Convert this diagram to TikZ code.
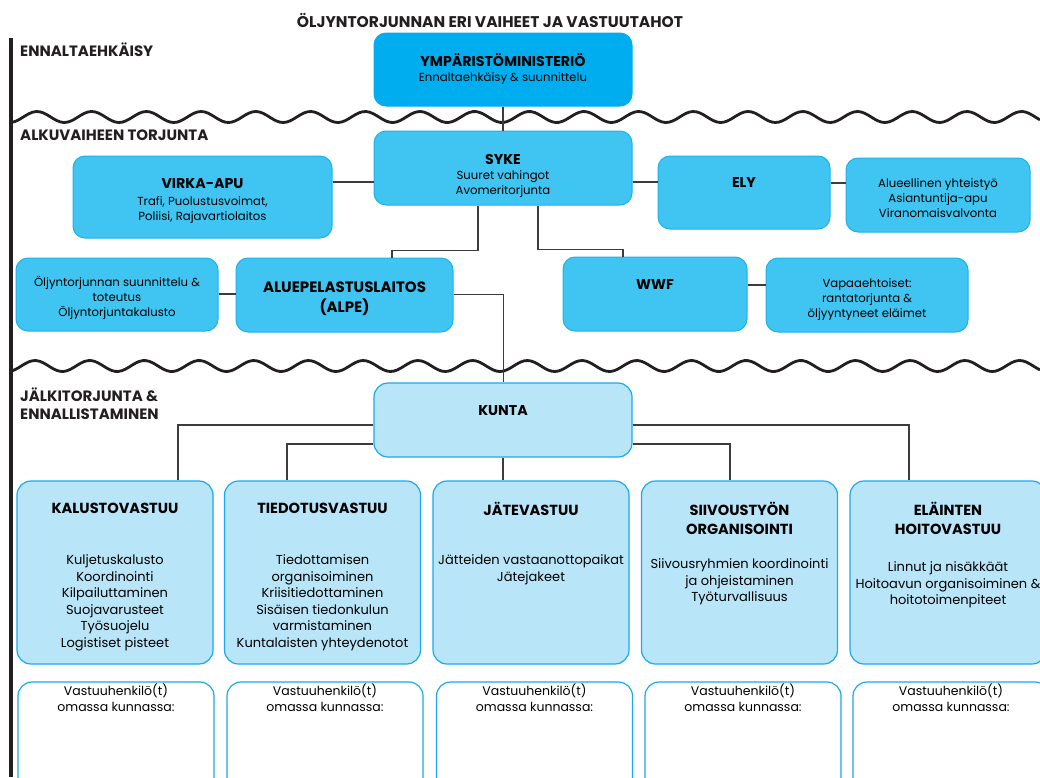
\documentclass[tikz,border=0pt]{standalone}
\usepackage{fontspec}
\setmainfont{Poppins}
\usetikzlibrary{positioning}
\newcommand{\otsikko}[1]{{\bfseries\fontsize{14.2}{16}\selectfont #1}}
\begin{document}
\begin{tikzpicture}[x=1pt,y=-1pt,
    box/.style={draw=bborde,fill=bfill,line width=1pt,rounded corners=12pt,inner sep=0pt},
    btext/.style={align=center,inner sep=0pt,font=\fontsize{11.7}{15}\selectfont},
    kbox/.style={box,draw=kborde,fill=kfill,line width=1.2pt,rounded corners=14pt},
    vbox/.style={kbox,fill=white},
    head/.style={align=center,inner sep=0pt,font=\bfseries\fontsize{14.6}{19}\selectfont},
    body/.style={align=center,inner sep=0pt,font=\fontsize{13}{16.5}\selectfont},
    small/.style={align=center,inner sep=0pt,font=\fontsize{12.5}{16}\selectfont},
    vaihe/.style={anchor=west,inner sep=0pt,align=left,font=\bfseries\fontsize{15}{18}\selectfont,text=negro},
    con/.style={draw=linea,line width=1.3pt},
    wave/.style={draw=negro,line width=2.8pt}]
    %colores
    \definecolor{negro}{HTML}{231F20}
    \definecolor{linea}{HTML}{3C3C3C}
    \definecolor{ymfill}{HTML}{00AEEF}
    \definecolor{bfill}{HTML}{40C4F1}
    \definecolor{bborde}{HTML}{1DB2EA}
    \definecolor{kfill}{HTML}{B9E5F9}
    \definecolor{kborde}{HTML}{1AA9EC}

    \useasboundingbox (0,0) rectangle (1040,777);
    \clip (0,0) rectangle (1040,777);

    % otsikko ja vaiheet
    \node[inner sep=0pt,font=\bfseries\fontsize{15.5}{18}\selectfont,text=negro] (otsikko) at (490,20) {ÖLJYNTORJUNNAN ERI VAIHEET JA VASTUUTAHOT};
    \draw[negro,line width=3.2pt] (11,38) -- (11,777);
    \node[vaihe] (v1) at (20,50) {ENNALTAEHKÄISY};
    \node[vaihe] (v2) at (20,135) {ALKUVAIHEEN TORJUNTA};
    \node[vaihe] (v3) at (20,404) {JÄLKITORJUNTA \&\\ENNALLISTAMINEN};

    % aaltoviivat
    \draw[wave] plot[domain=12:1040,samples=300,smooth] (\x,{117-5.5*cos((\x-37)*6.5814)});
    \draw[wave] plot[domain=12:1040,samples=300,smooth] (\x,{366-5.5*cos((\x-35)*6.5814)});

    % ylin taso
    \node[box,fill=ymfill,draw=ymfill,minimum width=258,minimum height=73] (ym) at (503,69.5) {};
    \node[btext] (ymt) at (ym.center) {\otsikko{YMPÄRISTÖMINISTERIÖ}\\Ennaltaehkäisy \& suunnittelu};

    % alkuvaihe
    \node[box,minimum width=258,minimum height=74] (syke) at (503,168) {};
    \node[btext] (syket) at ([yshift=-8pt]syke.center) {\otsikko{SYKE}\\Suuret vahingot\\Avomeritorjunta};
    \node[box,minimum width=259,minimum height=82] (virka) at (202.5,197) {};
    \node[btext] (virkat) at ([yshift=-4pt]virka.center) {\otsikko{VIRKA-APU}\\[2pt]Trafi, Puolustusvoimat,\\Poliisi, Rajavartiolaitos};
    \node[box,minimum width=172,minimum height=73] (ely) at (744,192.5) {};
    \node[btext] (elyt) at ([yshift=9.5pt]ely.center) {\otsikko{ELY}};
    \node[box,minimum width=184,minimum height=74] (yht) at (938,195) {};
    \node[btext] (yhtt) at ([yshift=-3pt]yht.center) {Alueellinen yhteistyö\\Asiantuntija-apu\\Viranomaisvalvonta};
    \node[box,minimum width=202,minimum height=73] (suun) at (117,294.5) {};
    \node[btext] (suunt) at ([yshift=-3pt]suun.center) {Öljyntorjunnan suunnittelu \&\\toteutus\\Öljyntorjuntakalusto};
    \node[box,minimum width=217,minimum height=74] (alpe) at (344.5,295) {};
    \node[btext,font=\bfseries\fontsize{15}{20}\selectfont] (alpet) at ([yshift=-4pt]alpe.center) {ALUEPELASTUSLAITOS\\(ALPE)};
    \node[box,minimum width=184,minimum height=74] (wwf) at (655,294) {};
    \node[btext] (wwft) at ([yshift=9pt]wwf.center) {\otsikko{WWF}};
    \node[box,minimum width=202,minimum height=74] (vapaa) at (867,295) {};
    \node[btext] (vapaat) at ([yshift=-5pt]vapaa.center) {Vapaaehtoiset:\\rantatorjunta \&\\öljyyntyneet eläimet};

    \draw[con] (ym) -- (syke);
    \draw[con] (virka.east |- 0,182) -- (syke.west |- 0,182);
    \draw[con] (syke.east |- 0,182) -- (ely.west |- 0,182);
    \draw[con] (ely.east |- 0,183) -- (yht.west |- 0,183);
    \draw[con] ([xshift=-25pt]syke.south) -- ++(0,45) -| ([xshift=47.5pt]alpe.north);
    \draw[con] ([xshift=35pt]syke.south) -- ++(0,44) -| ([xshift=-32pt]wwf.north);
    \draw[con] (suun.east |- 0,294) -- (alpe.west |- 0,294);
    \draw[con] (wwf.east |- 0,285) -- (vapaa.west |- 0,285);

    % jälkitorjunta
    \node[kbox,minimum width=258,minimum height=74] (kunta) at (503,420) {};
    \node[btext] (kuntat) at ([yshift=9pt]kunta.center) {\otsikko{KUNTA}};
    \draw[linea,line width=1pt] (alpe.east |- 0,294) -| (kunta.north);

    \foreach \nimi/\x in {kal/115,tied/322.5,jate/531,siiv/739.5,elain/948}
      \node[kbox,minimum width=196,minimum height=183] (\nimi) at (\x,572.5) {};
    \foreach \nimi/\x in {kal/116,tied/325,jate/534.5,siiv/743,elain/951}
      \node[vbox,minimum width=196,minimum height=120] (\nimi v) at (\x,742) {};

    \draw[con] ([yshift=-5pt]kunta.west) -| ([xshift=63pt]kal.north);
    \draw[con] ([yshift=-24pt]kunta.west) -| ([xshift=-35.5pt]tied.north);
    \draw[con] (kunta.south) -- (kunta.south |- jate.north);
    \draw[con] ([yshift=-24pt]kunta.east) -| ([xshift=-9.5pt]siiv.north);
    \draw[con] ([yshift=-5pt]kunta.east) -| ([xshift=-39pt]elain.north);

    % vastuualueet
    \node[head,below=22pt of kal.north] (kalh) {KALUSTOVASTUU};
    \node[body,below=74pt of kal.north] (kalb) {Kuljetuskalusto\\Koordinointi\\Kilpailuttaminen\\Suojavarusteet\\Työsuojelu\\Logistiset pisteet};
    \node[head,below=22pt of tied.north] (tiedh) {TIEDOTUSVASTUU};
    \node[body,below=74pt of tied.north] (tiedb) {Tiedottamisen\\organisoiminen\\Kriisitiedottaminen\\Sisäisen tiedonkulun\\varmistaminen\\Kuntalaisten yhteydenotot};
    \node[head,below=22pt of jate.north] (jateh) {JÄTEVASTUU};
    \node[body,below=74pt of jate.north] (jateb) {Jätteiden vastaanottopaikat\\Jätejakeet};
    \node[head,below=22pt of siiv.north] (siivh) {SIIVOUSTYÖN\\ORGANISOINTI};
    \node[body,below=78pt of siiv.north] (siivb) {Siivousryhmien koordinointi\\ja ohjeistaminen\\Työturvallisuus};
    \node[head,below=22pt of elain.north] (elainh) {ELÄINTEN\\HOITOVASTUU};
    \node[body,below=81pt of elain.north] (elainb) {Linnut ja nisäkkäät\\Hoitoavun organisoiminen \&\\hoitotoimenpiteet};

    \foreach \nimi in {kal,tied,jate,siiv,elain}
      \node[small,below=2pt of \nimi v.north] (\nimi h2) {Vastuuhenkilö(t)\\omassa kunnassa:};
\end{tikzpicture}
\end{document}
